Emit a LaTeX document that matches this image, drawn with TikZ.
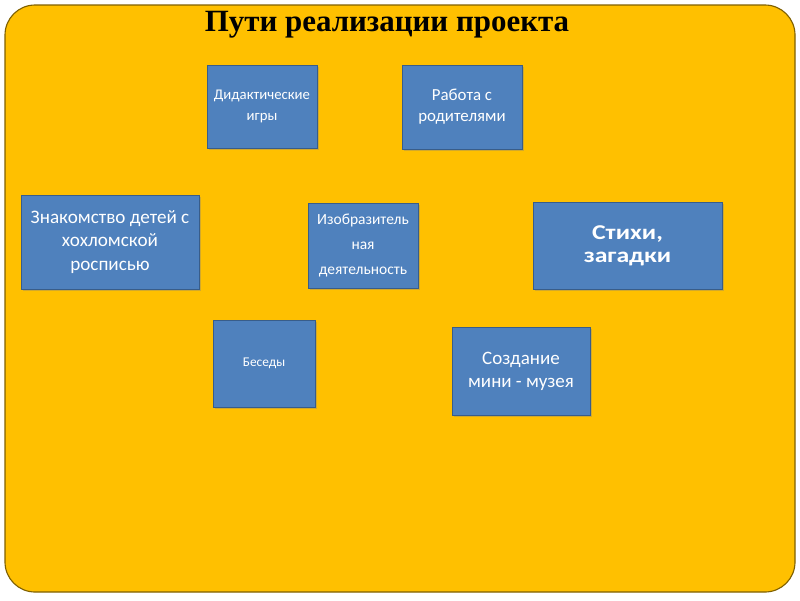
\documentclass[tikz,border=0pt]{standalone}
\usepackage{fontspec}
\setmainfont{Carlito}
\newfontfamily\titlefont{Liberation Serif}
\newfontfamily\widefont[FakeStretch=1.22]{Carlito}
\usepackage{xcolor}
\usepackage{tikz}
\usetikzlibrary{shadows}
\definecolor{bgorange}{HTML}{FFC000}
\definecolor{bgedge}{HTML}{7F6000}
\definecolor{boxblue}{HTML}{4F81BD}
\definecolor{boxedge}{HTML}{385D8A}
\tikzset{
  box/.style={rectangle,fill=boxblue,draw=boxedge,line width=0.6pt,
    text=white,align=center,inner sep=0pt,
    drop shadow={shadow xshift=1.2pt,shadow yshift=-1.2pt,opacity=0.35}},
  fs/.style 2 args={font=\fontsize{#1}{#2}\selectfont}
}

\begin{document}
\begin{tikzpicture}[x=0.025cm,y=-0.025cm]
\useasboundingbox (0,0) rectangle (800,600);
\draw[fill=bgorange,draw=bgedge,line width=0.8pt,rounded corners=0.75cm](5,5) rectangle (795,592);
\node (title) at (387,25) {\titlefont\fontsize{22}{24}\selectfont\bfseries Пути реализации проекта};
\node[box,fs={10.5}{15},minimum width=2.75cm,minimum height=2.075cm] (igry) at (262,106.5) {Дидактические\\игры};
\node[box,fs={12}{15},minimum width=3cm,minimum height=2.1cm] (rod) at (462,107) {Работа с\\родителями};
\node[box,fs={13.6}{17},minimum width=4.45cm,minimum height=2.35cm] (hohl) at (110,242) {Знакомство детей с\\хохломской\\росписью};
\node[box,fs={11}{17.7},minimum width=2.75cm,minimum height=2.125cm] (izo) at (363,245.5) {Изобразитель\\ная\\деятельность};
\node[box,font=\widefont\fontsize{15}{16.5}\selectfont\bfseries,minimum width=4.725cm,minimum height=2.175cm] (stihi) at (627.5,245.5) {Стихи,\\загадки};
\node[box,fs={9.5}{14},minimum width=2.55cm,minimum height=2.175cm] (bes) at (264,363.5) {Беседы};
\node[box,fs={13.5}{16.3},minimum width=3.45cm,minimum height=2.2cm] (muz) at (521,371) {Создание\\мини - музея};
\end{tikzpicture}
\end{document}
